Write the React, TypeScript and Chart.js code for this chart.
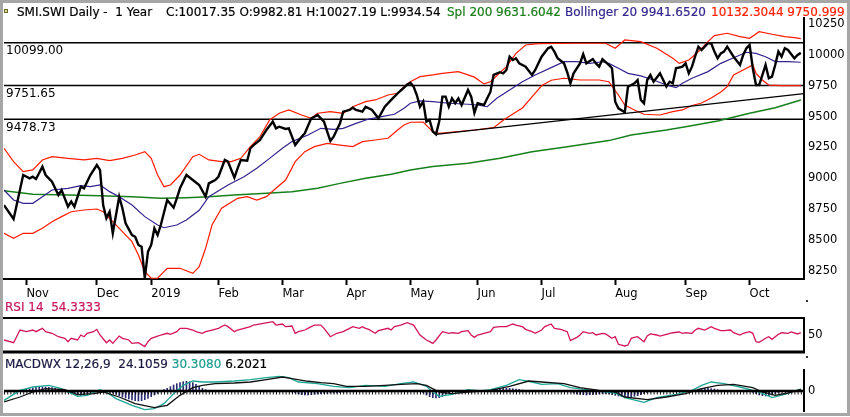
import { useEffect, useRef } from 'react'
import { Chart, registerables } from 'chart.js'

Chart.register(...registerables)

const FONT = "'DejaVu Sans', Verdana, sans-serif"
Chart.defaults.font.family = FONT
Chart.defaults.color = '#000'

// x = trading-day index (0 = first session on the chart)
const lastDay = 250
const monthTickDays = [7, 29, 46, 67, 87, 107, 127, 148, 168, 191, 213, 233]
const monthTickLabels = ['Nov', 'Dec', '2019', 'Feb', 'Mar', 'Apr', 'May', 'Jun', 'Jul', 'Aug', 'Sep', 'Oct']

const priceTicks = [8250, 8500, 8750, 9000, 9250, 9500, 9750, 10000, 10250]
const levels = [10099.0, 9751.65, 9478.73]
const trendLine = [[135, 9356], [250, 9686]]

const closeSeries = [
  [0, 8782], [3, 8669], [6, 9026], [8, 8999], [9, 9012], [10, 8994], [12, 9094], [13, 9026], [14, 8999], [15, 8972],
  [17, 8864], [18, 8904], [20, 8769], [21, 8810], [22, 8769], [24, 8931], [25, 8918], [27, 9026], [29, 9107], [30, 9067],
  [31, 8780], [32, 8675], [33, 8728], [34, 8553], [36, 8850], [37, 8756], [38, 8634], [40, 8539], [41, 8525], [42, 8458],
  [43, 8444], [44, 8190], [45, 8404], [46, 8458], [47, 8593], [48, 8539], [49, 8620], [51, 8823], [53, 8761], [54, 8837],
  [55, 8918], [57, 9026], [59, 8985], [61, 8945], [63, 8850], [64, 8958], [66, 8985], [67, 9012], [69, 9148], [70, 9134],
  [72, 9005], [73, 9080], [74, 9148], [76, 9142], [77, 9243], [78, 9269], [80, 9310], [81, 9351], [82, 9391], [84, 9459],
  [85, 9405], [86, 9418], [88, 9400], [89, 9405], [91, 9269], [93, 9337], [94, 9364], [96, 9486], [97, 9499], [98, 9513],
  [99, 9486], [100, 9459], [101, 9378], [102, 9302], [103, 9337], [105, 9445], [106, 9540], [108, 9554], [109, 9572], [110, 9554],
  [112, 9540], [113, 9580], [115, 9554], [117, 9486], [119, 9580], [121, 9635], [123, 9689], [125, 9735], [126, 9760], [127, 9775],
  [128, 9743], [129, 9675], [130, 9580], [131, 9621], [132, 9459], [133, 9472], [134, 9378], [135, 9356], [136, 9460], [137, 9662],
  [138, 9662], [139, 9580], [140, 9648], [141, 9608], [142, 9648], [143, 9594], [145, 9716], [146, 9662], [147, 9530], [148, 9608],
  [150, 9594], [151, 9648], [152, 9700], [153, 9838], [155, 9860], [156, 9851], [157, 9878], [158, 9986], [159, 9959], [160, 9973],
  [161, 9932], [163, 9905], [165, 9838], [166, 9878], [167, 9932], [168, 9986], [170, 10054], [171, 10067], [172, 10027], [173, 9973],
  [175, 9932], [176, 9860], [177, 9770], [178, 9851], [180, 9932], [181, 10006], [182, 9932], [184, 9967], [185, 9932], [186, 9905],
  [187, 9966], [189, 9919], [190, 9892], [191, 9621], [192, 9567], [194, 9535], [195, 9743], [196, 9756], [197, 9770], [198, 9797],
  [199, 9635], [200, 9608], [201, 9797], [202, 9838], [203, 9783], [205, 9851], [206, 9797], [207, 9743], [208, 9783], [209, 9770],
  [210, 9892], [212, 9905], [213, 9932], [214, 9851], [215, 9905], [216, 9990], [217, 10067], [218, 10040], [220, 10095], [221, 10095],
  [222, 10027], [223, 9973], [224, 10013], [225, 10027], [226, 10067], [228, 9986], [230, 9919], [231, 10000], [232, 10054], [233, 10081],
  [234, 9892], [235, 9756], [236, 9756], [237, 9838], [238, 9919], [239, 9811], [240, 9824], [241, 9919], [242, 10027], [243, 9986],
  [244, 10054], [245, 10040], [247, 9973], [248, 10000], [249, 10017],
]

const upperBand = [
  [0, 9243], [3, 9134], [6, 9053], [9, 9067], [12, 9148], [15, 9175], [20, 9161], [25, 9148], [29, 9161], [33, 9142],
  [37, 9161], [41, 9188], [44, 9215], [46, 9161], [48, 9026], [50, 8931], [52, 8945], [55, 9026], [59, 9175], [61, 9194],
  [64, 9148], [68, 9134], [71, 9134], [74, 9161], [77, 9256], [80, 9337], [83, 9472], [86, 9527], [89, 9554], [93, 9513],
  [96, 9486], [98, 9527], [102, 9540], [106, 9527], [109, 9580], [113, 9621], [116, 9635], [120, 9675], [123, 9689], [125, 9743],
  [127, 9783], [128, 9797], [130, 9824], [134, 9838], [137, 9851], [142, 9865], [145, 9838], [147, 9820], [150, 9765], [152, 9783],
  [157, 9905], [160, 10013], [163, 10081], [167, 10092], [178, 10095], [188, 10095], [191, 10054], [194, 10122], [199, 10108], [204, 10054],
  [209, 9973], [211, 9932], [214, 9959], [217, 10027], [220, 10108], [222, 10157], [226, 10176], [230, 10149], [233, 10135], [236, 10189],
  [240, 10168], [244, 10149], [247, 10141], [249, 10132],
]

const middleBand = [
  [0, 8904], [3, 8823], [6, 8796], [9, 8796], [12, 8850], [15, 8904], [20, 8918], [24, 8939], [27, 8931], [30, 8945],
  [33, 8891], [36, 8850], [40, 8782], [44, 8688], [48, 8620], [50, 8598], [54, 8620], [57, 8661], [61, 8740], [64, 8850],
  [70, 8945], [75, 9012], [79, 9080], [83, 9161], [87, 9243], [90, 9297], [95, 9351], [99, 9405], [103, 9397], [106, 9405],
  [110, 9445], [114, 9480], [118, 9499], [122, 9519], [125, 9567], [127, 9608], [130, 9627], [134, 9621], [139, 9608], [145, 9600],
  [148, 9594], [151, 9580], [154, 9648], [158, 9716], [162, 9783], [166, 9838], [171, 9897], [175, 9946], [179, 9946], [183, 9932],
  [187, 9945], [189, 9932], [192, 9892], [195, 9851], [199, 9830], [203, 9797], [207, 9756], [210, 9735], [212, 9770], [215, 9811],
  [220, 9865], [224, 9932], [228, 9978], [232, 10022], [235, 10013], [238, 9986], [241, 9946], [245, 9946], [249, 9941],
]

const lowerBand = [
  [0, 8553], [3, 8512], [6, 8553], [9, 8553], [12, 8593], [15, 8647], [18, 8688], [21, 8728], [25, 8742], [29, 8750],
  [31, 8728], [34, 8647], [37, 8566], [40, 8485], [42, 8377], [44, 8241], [46, 8188], [48, 8188], [51, 8269], [55, 8269],
  [59, 8228], [61, 8282], [63, 8431], [65, 8620], [68, 8756], [73, 8837], [76, 8850], [79, 8823], [82, 8850], [85, 8918],
  [88, 8985], [91, 9134], [94, 9215], [97, 9256], [101, 9283], [105, 9269], [109, 9256], [112, 9297], [116, 9310], [120, 9324],
  [123, 9391], [125, 9432], [127, 9454], [131, 9455], [134, 9378], [136, 9364], [147, 9391], [153, 9410], [156, 9470], [159, 9520],
  [162, 9570], [165, 9660], [168, 9750], [171, 9795], [175, 9811], [180, 9797], [186, 9797], [189, 9783], [192, 9675], [194, 9594],
  [197, 9554], [200, 9519], [205, 9513], [209, 9540], [212, 9554], [215, 9590], [218, 9610], [221, 9650], [224, 9700], [226, 9743],
  [228, 9838], [231, 9878], [234, 9919], [235, 9851], [237, 9797], [239, 9756], [243, 9751], [249, 9751],
]

const sma200 = [
  [0, 8899], [9, 8869], [20, 8864], [30, 8858], [40, 8850], [49, 8837], [57, 8842], [64, 8850], [72, 8864], [82, 8877],
  [90, 8891], [98, 8918], [105, 8958], [113, 8999], [121, 9032], [127, 9067], [134, 9094], [145, 9121], [155, 9161], [165, 9215],
  [176, 9256], [189, 9305], [196, 9351], [207, 9391], [213, 9418], [223, 9464], [233, 9527], [241, 9572], [249, 9635],
]

const rsi14 = [
  [0, 41.2], [3, 36.4], [5, 58.8], [7, 55.9], [9, 58.8], [10, 55.9], [12, 61.8], [13, 55.9], [15, 53], [17, 47],
  [19, 44.2], [20, 38.2], [21, 44.2], [23, 41.2], [24, 50], [25, 47], [26, 53], [28, 55.9], [29, 60], [30, 50],
  [32, 36.4], [33, 41.2], [34, 35.3], [36, 48.2], [37, 44.2], [39, 41.2], [40, 35.3], [42, 36.4], [44, 29.4], [45, 38.2],
  [46, 44.2], [48, 48.2], [49, 50], [51, 53], [52, 51.2], [54, 55.9], [55, 61.8], [57, 61.8], [59, 58.8], [60, 55.9],
  [62, 53], [63, 55.9], [65, 58.8], [67, 61.8], [69, 67.6], [70, 64.7], [72, 55.9], [73, 58.8], [75, 61.8], [77, 64.7],
  [78, 67.6], [81, 70.6], [84, 73.5], [85, 67.6], [87, 69.4], [88, 64.7], [90, 65.9], [91, 53], [92, 55.9], [94, 58.8],
  [96, 64.7], [97, 67.6], [99, 67.6], [100, 61.8], [102, 47], [103, 50], [104, 53], [106, 55.9], [108, 61.8], [109, 64.7],
  [111, 61.8], [112, 64.7], [113, 61.8], [114, 60], [116, 53], [117, 57.6], [120, 61.8], [121, 58.8], [122, 64.7], [124, 67.6],
  [126, 71.7], [128, 67.6], [130, 50], [132, 41.2], [133, 38.2], [134, 35.3], [135, 41.2], [137, 55.9], [139, 53], [140, 54],
  [142, 53], [143, 55.9], [145, 57.6], [146, 50], [147, 45.9], [148, 50], [150, 53], [152, 55.9], [153, 63.6], [155, 64.7],
  [157, 64.7], [159, 69.4], [160, 67.6], [162, 64.7], [163, 60], [165, 55.9], [166, 53], [168, 58.8], [169, 64.7], [171, 69.4],
  [172, 61.8], [174, 60], [176, 55.9], [177, 40], [179, 45.9], [180, 50], [181, 55.9], [183, 53], [184, 54], [185, 50],
  [187, 53], [188, 51.8], [190, 44.2], [191, 47], [192, 33.6], [194, 30.6], [195, 32.3], [196, 44.2], [197, 45.9], [198, 47],
  [199, 42.4], [200, 38.2], [201, 48.2], [202, 51.8], [204, 50], [205, 48.2], [207, 51.2], [209, 54], [211, 55.3], [212, 53],
  [213, 54], [215, 53], [216, 58.8], [217, 61.8], [219, 58.8], [221, 64.7], [222, 61.8], [224, 57.6], [225, 57.6], [227, 58.8],
  [228, 54], [230, 50], [231, 53], [233, 55.9], [234, 53], [235, 38.2], [236, 37.1], [238, 44.2], [239, 47], [240, 42.4],
  [242, 51.2], [243, 54], [245, 53], [246, 55.3], [248, 51.8], [249, 54.3],
]

const macdLine = [
  [0, -140], [5, 10], [9, 60], [14, 85], [18, 36], [23, -80], [26, -65], [30, 21], [32, -15], [35, -114],
  [40, -215], [44, -279], [47, -264], [50, -189], [53, -39], [56, 85], [59, 150], [62, 135], [66, 135], [72, 150],
  [77, 171], [82, 201], [86, 220], [89, 201], [92, 135], [98, 111], [103, 70], [108, 51], [113, 85], [119, 70],
  [124, 111], [128, 135], [132, 70], [134, -15], [136, -80], [140, -50], [145, 21], [149, 0], [152, 21], [157, 85],
  [161, 171], [165, 135], [168, 100], [173, 111], [177, 51], [182, 21], [186, 0], [191, -30], [194, -99], [200, -170],
  [204, -99], [210, -50], [215, 10], [218, 85], [221, 135], [225, 111], [230, 60], [236, -15], [240, -99], [244, -50],
  [249, 30],
]

const signalLine = [
  [0, -165], [5, -90], [9, -15], [13, 36], [19, 21], [23, -54], [28, -39], [31, -15], [36, -90], [41, -189],
  [47, -249], [51, -215], [55, -65], [59, 51], [62, 85], [66, 111], [72, 120], [77, 135], [82, 171], [87, 210],
  [90, 186], [95, 146], [99, 126], [103, 111], [107, 70], [113, 70], [119, 85], [124, 100], [129, 111], [132, 85],
  [136, -15], [140, -39], [145, -15], [152, 10], [158, 70], [164, 150], [168, 135], [175, 111], [180, 51], [186, 10],
  [191, -15], [194, -90], [201, -129], [207, -90], [213, -39], [218, 36], [223, 85], [228, 100], [234, 51], [237, -15],
  [241, -65], [245, -30], [249, 24],
]

// one bar per session, day 0..249
const macdHistogram = [
  10, 10, 10, 10, 10, 10, 15, 25, 35, 45,
  55, 60, 60, 60, 55, 50, 40, 30, 20, -10,
  -25, -40, -50, -60, -65, -60, -50, -40, -25, -10,
  10, 5, -10, -20, -30, -50, -70, -90, -105, -120,
  -135, -145, -150, -145, -130, -110, -85, -60, -35, -10,
  20, 40, 65, 90, 110, 125, 140, 145, 140, 125,
  100, 70, 40, 20, 10, 5, 5, 10, 5, 5,
  5, 10, 5, 5, 10, 5, 5, 5, 10, 5,
  5, 5, 10, 5, 5, 5, 5, 5, -5, -5,
  -15, -30, -45, -55, -60, -60, -55, -50, -45, -40,
  -35, -35, -30, -30, -30, -25, -20, -15, -10, -5,
  5, 5, 5, 5, 5, 5, 5, 5, 5, 5,
  5, 5, 5, 5, 5, 5, 5, -5, -5, -5,
  -10, -30, -60, -85, -100, -105, -100, -80, -50, -25,
  -5, -5, -5, -5, -5, -5, -5, -5, -5, -5,
  -5, -5, 5, 15, 25, 35, 40, 40, 40, 35,
  30, 25, 15, 10, 5, 5, 5, -5, -5, -5,
  -5, -5, -5, -5, -5, -5, -5, -15, -30, -45,
  -50, -55, -60, -55, -55, -50, -45, -40, -40, -45,
  -55, -65, -75, -85, -90, -90, -85, -80, -70, -55,
  -40, -25, -15, -5, -5, 5, 5, 5, 5, 5,
  5, 5, 5, 5, 5, 10, 20, 30, 40, 40,
  40, 35, 30, 20, 10, 5, -5, -5, -5, -5,
  -5, -5, -5, -5, -20, -40, -60, -70, -75, -70,
  -60, -45, -25, -10, 5, 5, 10, 10, 10, 15,
]

const pts = (series: number[][]) => series.map(([x, y]) => ({ x, y }))
const flat = (v: number) => pts([[0, v], [lastDay, v]])

const line = (data: any, color: string, width: number, extra: any = {}) => ({
  type: 'line',
  data,
  borderColor: color,
  borderWidth: width,
  pointRadius: 0,
  fill: false,
  tension: 0,
  ...extra,
})

const hiddenX = { type: 'linear', min: 0, max: lastDay, display: false }

const rightAxis = (min: number, max: number, ticks: number[]) => ({
  position: 'right',
  min,
  max,
  afterBuildTicks: (s: any) => { s.ticks = ticks.map((value) => ({ value })) },
  afterFit: (s: any) => { s.width = 46; s.paddingTop = 0; s.paddingBottom = 0 },
  grid: { display: false, drawTicks: false },
  border: { display: true, color: '#000', width: 2 },
  ticks: {
    padding: 4,
    color: '#000',
    font: { size: 11.5 },
    autoSkip: false,
    callback: (v: any) => String(v),
  },
})

const levelLabels = {
  id: 'levelLabels',
  afterDatasetsDraw(chart: any) {
    const { ctx, chartArea, scales } = chart
    ctx.save()
    ctx.font = `12px ${FONT}`
    ctx.fillStyle = '#000'
    ctx.textBaseline = 'middle'
    levels.forEach((v) => {
      ctx.fillText(v.toFixed(2), chartArea.left + 2, scales.y.getPixelForValue(v) + 8.5)
    })
    ctx.restore()
  },
}

const panelFrame = {
  id: 'panelFrame',
  afterDraw(chart: any) {
    const { ctx, chartArea } = chart
    ctx.save()
    ctx.strokeStyle = '#000'
    ctx.lineWidth = 2
    ctx.beginPath()
    ctx.moveTo(chartArea.left - 2, chartArea.top)
    ctx.lineTo(chartArea.right, chartArea.top)
    ctx.stroke()
    ctx.lineWidth = 3
    ctx.beginPath()
    ctx.moveTo(chartArea.left - 2, chartArea.bottom)
    ctx.lineTo(chartArea.right + 1, chartArea.bottom)
    ctx.stroke()
    ctx.restore()
  },
}

function priceConfig(): any {
  return {
    type: 'line',
    data: {
      datasets: [
        line(pts(closeSeries), '#000', 2.4),
        line(pts(trendLine), '#000', 1.4),
        line(pts(upperBand), '#ff1a00', 1.2),
        line(pts(lowerBand), '#ff1a00', 1.2),
        line(pts(middleBand), '#35228f', 1.2),
        line(pts(sma200), '#17801c', 1.5),
        ...levels.map((v) => line(flat(v), '#000', 1.4)),
      ],
    },
    options: {
      animation: false,
      responsive: true,
      maintainAspectRatio: false,
      layout: { padding: { left: 4, top: 18, right: 0, bottom: 0 } },
      plugins: { legend: { display: false }, tooltip: { enabled: false } },
      scales: {
        x: {
          type: 'linear',
          min: 0,
          max: lastDay,
          afterBuildTicks: (s: any) => { s.ticks = monthTickDays.map((value) => ({ value })) },
          afterFit: (s: any) => { s.height = 26; s.paddingLeft = 0; s.paddingRight = 0 },
          grid: { display: true, drawOnChartArea: false, drawTicks: true, tickLength: 6, tickWidth: 2, tickColor: '#000' },
          border: { display: true, color: '#000', width: 2 },
          ticks: {
            align: 'start',
            padding: 2,
            color: '#000',
            maxRotation: 0,
            autoSkip: false,
            font: { size: 11.5 },
            callback: (_v: any, i: number) => monthTickLabels[i],
          },
        },
        y: rightAxis(8182, 10300, priceTicks),
      },
    },
    plugins: [levelLabels],
  }
}

function rsiConfig(): any {
  return {
    type: 'line',
    data: { datasets: [line(pts(rsi14), '#d3145c', 1.3)] },
    options: {
      animation: false,
      responsive: true,
      maintainAspectRatio: false,
      layout: { padding: { left: 4, top: 8, right: 0, bottom: 8 } },
      plugins: { legend: { display: false }, tooltip: { enabled: false } },
      scales: { x: hiddenX, y: rightAxis(20, 80, [50]) },
    },
    plugins: [panelFrame],
  }
}

function macdConfig(): any {
  return {
    type: 'line',
    data: {
      datasets: [
        line(flat(0), '#000', 2.5),
        line(pts(signalLine), '#111', 1.3),
        line(pts(macdLine), '#1ea796', 1.3),
        line(flat(-30), '#111', 3, { borderDash: [1, 2.2] }),
        {
          type: 'bar',
          data: macdHistogram.map((y, x) => ({ x, y })),
          backgroundColor: '#2c2c72',
          barThickness: 1,
          grouped: false,
        },
      ],
    },
    options: {
      animation: false,
      responsive: true,
      maintainAspectRatio: false,
      layout: { padding: { left: 4, top: 8, right: 0, bottom: 2 } },
      plugins: { legend: { display: false }, tooltip: { enabled: false } },
      scales: { x: { ...hiddenX, offset: false }, y: rightAxis(-300, 315, [0]) },
    },
  }
}

const textStyle = { position: 'absolute', font: `12px ${FONT}`, lineHeight: '16px', whiteSpace: 'pre', WebkitTextStroke: '0.2px' } as const

const txt = (left: number, top: number, color: string, children: string) => (
  <div style={{ ...textStyle, left, top, color }}>{children}</div>
)

export default function App() {
  const priceRef = useRef<HTMLCanvasElement>(null)
  const rsiRef = useRef<HTMLCanvasElement>(null)
  const macdRef = useRef<HTMLCanvasElement>(null)

  useEffect(() => {
    if (!priceRef.current || !rsiRef.current || !macdRef.current) return
    const charts = [
      new Chart(priceRef.current, priceConfig()),
      new Chart(rsiRef.current, rsiConfig()),
      new Chart(macdRef.current, macdConfig()),
    ]
    return () => charts.forEach((c) => c.destroy())
  }, [])

  return (
    <div style={{ position: 'absolute', left: 0, top: 0, width: 850, height: 417, background: '#fff', overflow: 'hidden' }}>
      <div style={{ position: 'absolute', left: 0, top: 0, width: 850, height: 305 }}>
        <canvas ref={priceRef}></canvas>
      </div>
      <div style={{ position: 'absolute', left: 0, top: 310, width: 850, height: 50 }}>
        <canvas ref={rsiRef}></canvas>
      </div>
      <div style={{ position: 'absolute', left: 0, top: 362, width: 850, height: 51 }}>
        <canvas ref={macdRef}></canvas>
      </div>

      <div style={{ position: 'absolute', left: 4, top: 9, width: 2, height: 2, border: '1px solid #6d6a2a', background: '#d9d68e' }} />
      {txt(17, 4, '#000', 'SMI.SWI Daily -  1 Year')}
      {txt(166, 4, '#000', 'C:10017.35 O:9982.81 H:10027.19 L:9934.54')}
      {txt(447, 4, '#1b7d1b', 'Spl 200 9631.6042')}
      {txt(565, 4, '#33278f', 'Bollinger 20 9941.6520')}
      {txt(711, 4, '#ff1f00', '10132.3044 9750.999')}
      {txt(5, 299, '#c8155e', 'RSI 14  54.3333')}
      <div style={{ ...textStyle, left: 5, top: 356, color: '#1a1a44' }}>
        MACDWX 12,26,9  24.1059 <span style={{ color: '#1e9d8e' }}>30.3080</span> <span style={{ color: '#000' }}>6.2021</span>
      </div>
      <div style={{ position: 'absolute', left: 806, top: 300, width: 2, height: 2, background: '#333' }} />
      <div style={{ position: 'absolute', left: 806, top: 356, width: 2, height: 2, background: '#333' }} />

      <div style={{ position: 'absolute', left: 0, top: 0, width: 850, height: 416, boxSizing: 'border-box', border: '3px solid #a6a6a6', pointerEvents: 'none' }} />
    </div>
  )
}
